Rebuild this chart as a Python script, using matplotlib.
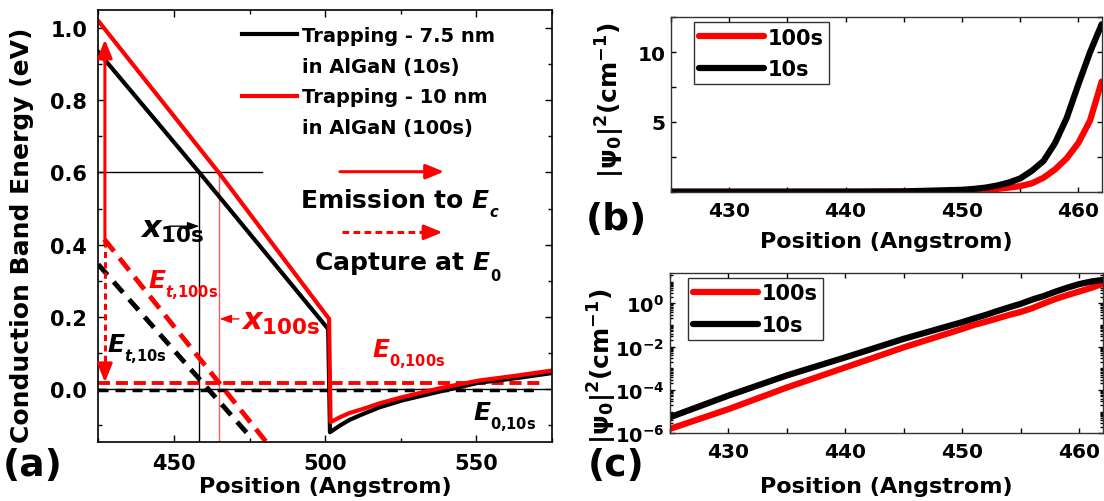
import numpy as np
import matplotlib
matplotlib.use("Agg")
import matplotlib.pyplot as plt
from matplotlib.lines import Line2D
from matplotlib.ticker import MultipleLocator, FixedLocator, LogLocator, NullFormatter

plt.rcParams.update({
    "font.family": "DejaVu Sans",
    "font.weight": "bold",
    "axes.labelweight": "bold",
    "axes.unicode_minus": False,
    "mathtext.fontset": "custom",
    "mathtext.rm": "DejaVu Sans:bold",
    "mathtext.bf": "DejaVu Sans:bold",
    "mathtext.it": "DejaVu Sans:italic:bold",
    "mathtext.default": "rm",
    "xtick.direction": "in",
    "ytick.direction": "in",
    "xtick.top": True,
    "ytick.right": True,
})

# ---- panel (a): conduction band (eV) vs position (Angstrom)
x_band_10s = [425, 458.4, 501.0, 501.6, 505, 508, 512.7, 518, 525.4, 538.0, 550.7, 563.4, 575]
e_band_10s = [0.934, 0.600, 0.166, -0.120, -0.101, -0.086, -0.069, -0.051, -0.032, -0.007, 0.017, 0.030, 0.044]
x_band_100s = [425, 464.8, 501.3, 501.8, 505, 508, 512.7, 518, 525.4, 538.0, 550.7, 563.4, 575]
e_band_100s = [1.020, 0.600, 0.194, -0.092, -0.078, -0.067, -0.055, -0.040, -0.023, 0.002, 0.023, 0.037, 0.051]

# trap levels (dashed diagonals)
x_et_10s = [425, 475.5]
e_et_10s = [0.345, -0.135]
x_et_100s = [427, 481]
e_et_100s = [0.415, -0.152]

# ground state levels
x_e0 = [425, 571]
e0_10s = -0.004
e0_100s = 0.017

# guide lines
e_trap = 0.6
x_guide_end = 479
x_cross_10s = 458.4
x_cross_100s = 464.8

# ---- panels (b),(c): |psi0|^2 (cm^-1)
x_psi = [425, 430, 435, 440, 445, 450, 451, 452, 453, 454, 455, 456, 457, 458, 459, 460, 461, 462]
psi_10s = [5.5e-6, 5.5e-5, 4.7e-4, 3.2e-3, 2.3e-2, 0.135, 0.2, 0.29, 0.44, 0.65,
           0.95, 1.5, 2.2, 3.5, 5.3, 7.7, 10.0, 12.0]
psi_100s = [1.6e-6, 1.3e-5, 1.3e-4, 1.1e-3, 9.3e-3, 0.066, 0.1, 0.14, 0.2, 0.29,
            0.40, 0.6, 1.0, 1.6, 2.4, 3.5, 5.1, 7.9]

fig = plt.figure(figsize=(11.04, 5.02), dpi=100)
axa = fig.add_axes([0.0890, 0.1169, 0.4110, 0.8618])
axb = fig.add_axes([0.6078, 0.6161, 0.3901, 0.3474])
axc = fig.add_axes([0.6069, 0.1349, 0.3919, 0.3193])


def sub_label(ax, x, y, main, sub, color="k", size=18, subsize=10.5):
    t = ax.text(x, y, main, fontsize=size, color=color, va="baseline")
    ax.annotate(sub, xy=(1, 0), xycoords=t, xytext=(-1, -3), textcoords="offset points",
                fontsize=subsize, color=color, va="baseline")


# ================= (a)
axa.axhline(0, color="k", lw=1.0)
axa.plot([425, x_guide_end], [e_trap, e_trap], color="k", lw=1.0)
axa.plot([x_cross_10s, x_cross_10s], [e_trap, -0.2], color="k", lw=1.0)
axa.plot([x_cross_100s, x_cross_100s], [e_trap, -0.2], color="#ff5a5a", lw=1.0)

axa.plot(x_e0, [e0_10s, e0_10s], color="k", lw=2.5, dashes=(2.9, 2.0))
axa.plot(x_e0, [e0_100s, e0_100s], color="red", lw=2.8, dashes=(3.1, 1.5))
axa.plot(x_et_10s, e_et_10s, color="k", lw=3.5, dashes=(2.9, 1.9))
axa.plot(x_et_100s, e_et_100s, color="red", lw=3.5, dashes=(3.2, 1.8))

h_blk, = axa.plot(x_band_10s, e_band_10s, color="k", lw=3)
h_red, = axa.plot(x_band_100s, e_band_100s, color="red", lw=3)

blank = Line2D([], [], color="none")
axa.legend([h_blk, blank, h_red, blank],
           ["Trapping - 7.5 nm", "in AlGaN (10s)", "Trapping - 10 nm", "in AlGaN (100s)"],
           loc="upper left", bbox_to_anchor=(0.317, 0.962), frameon=False,
           fontsize=14, handlelength=2.8, handletextpad=0.3, labelspacing=0.6,
           borderaxespad=0, borderpad=0)

head = "-|>,head_length=1.1,head_width=0.45"
# emission / capture key arrows
axa.annotate("", xy=(539.3, 0.602), xytext=(504.9, 0.602),
             arrowprops=dict(arrowstyle=head, color="red", lw=2.2, shrinkA=0, shrinkB=0))
axa.plot([505.5, 534], [0.434, 0.434], color="red", lw=2.2, dashes=(2.2, 1.4))
axa.annotate("", xy=(538.8, 0.434), xytext=(533.5, 0.434),
             arrowprops=dict(arrowstyle=head, color="red", lw=2.2, shrinkA=0, shrinkB=0))
# vertical emission / capture arrows
axa.annotate("", xy=(427.2, 0.968), xytext=(427.2, 0.40),
             arrowprops=dict(arrowstyle=head, color="red", lw=2.2, shrinkA=0, shrinkB=0))
axa.plot([427.2, 427.2], [0.41, 0.06], color="red", lw=2.2, dashes=(2.0, 1.4))
axa.annotate("", xy=(427.2, 0.0185), xytext=(427.2, 0.07),
             arrowprops=dict(arrowstyle=head, color="red", lw=2.2, shrinkA=0, shrinkB=0))
# distance arrows
axa.annotate("", xy=(x_cross_10s, 0.451), xytext=(448.4, 0.451),
             arrowprops=dict(arrowstyle="-|>,head_length=0.7,head_width=0.25", color="k", lw=1, shrinkA=0, shrinkB=0))
axa.annotate("", xy=(x_cross_100s + 0.3, 0.194), xytext=(471.5, 0.194),
             arrowprops=dict(arrowstyle="-|>,head_length=0.7,head_width=0.25", color="red", lw=1, shrinkA=0, shrinkB=0))

axa.text(438.8, 0.421, r"$\mathit{x}_{\mathrm{10s}}$", fontsize=22, color="k", va="baseline")
axa.text(472.3, 0.166, r"$\mathit{x}_{\mathrm{100s}}$", fontsize=22, color="red", va="baseline")

sub_label(axa, 491.6, 0.504, r"Emission to $\mathit{E}$", r"$\mathit{c}$")
sub_label(axa, 496.3, 0.332, r"Capture at $\mathit{E}$", r"$\mathit{0}$")
sub_label(axa, 441.3, 0.283, r"$\mathit{E}$", r"$\mathit{t}$,100s", color="red")
sub_label(axa, 427.9, 0.105, r"$\mathit{E}$", r"$\mathit{t}$,10s")
sub_label(axa, 515.4, 0.091, r"$\mathit{E}$", r"$\mathit{0}$,100s", color="red")
sub_label(axa, 548.8, -0.083, r"$\mathit{E}$", r"$\mathit{0}$,10s")

axa.set_xlim(425, 575)
axa.set_ylim(-0.148, 1.051)
axa.xaxis.set_major_locator(MultipleLocator(50))
axa.xaxis.set_minor_locator(MultipleLocator(25))
axa.yaxis.set_major_locator(MultipleLocator(0.2))
axa.yaxis.set_minor_locator(MultipleLocator(0.1))
axa.tick_params(which="major", length=5, width=1, labelsize=15, pad=8)
axa.tick_params(which="minor", length=3, width=1)
for s in axa.spines.values():
    s.set_linewidth(1.2)
axa.set_xlabel("Position (Angstrom)", fontsize=16)
axa.set_ylabel("Conduction Band Energy (eV)", fontsize=18)
axa.xaxis.set_label_coords(0.5, -0.078)
axa.yaxis.set_label_coords(-0.142, 0.48)

# ================= (b) and (c)
for ax in (axb, axc):
    ax.plot(x_psi, psi_100s, color="red", lw=4.5, solid_capstyle="round", label="100s")
    ax.plot(x_psi, psi_10s, color="k", lw=4.5, solid_capstyle="round", label="10s")
    ax.set_xlim(425, 462)
    ax.xaxis.set_major_locator(MultipleLocator(10))
    ax.xaxis.set_minor_locator(MultipleLocator(5))
    ax.tick_params(which="both", length=3.5, width=1, labelsize=14.5)
    for s in ax.spines.values():
        s.set_linewidth(1.0)
        s.set_color("#333333")
    ax.set_xlabel("Position (Angstrom)", fontsize=16)
    ax.set_ylabel(r"$|\psi_0|^2$(cm$^{-1}$)", fontsize=18)

axb.set_ylim(0, 12.5)
axb.yaxis.set_major_locator(FixedLocator([5, 10]))
axb.yaxis.set_minor_locator(MultipleLocator(2.5))
axb.tick_params(axis="y", pad=4)
axb.tick_params(axis="x", pad=7)
axb.xaxis.set_label_coords(0.5, -0.225)
axb.yaxis.set_label_coords(-0.102, 0.53)

axc.set_yscale("log")
axc.set_ylim(1e-6, 25)
axc.yaxis.set_major_locator(FixedLocator([1e-6, 1e-4, 1e-2, 1]))
axc.yaxis.set_minor_locator(LogLocator(base=10, subs=np.arange(1, 10), numticks=60))
axc.yaxis.set_minor_formatter(NullFormatter())
axc.tick_params(axis="y", which="minor", length=2.5)
axc.tick_params(axis="y", pad=4, labelsize=14)
axc.tick_params(axis="x", pad=6)
axc.xaxis.set_label_coords(0.5, -0.265)
axc.yaxis.set_label_coords(-0.118, 0.426)

for ax, anchor in ((axb, (0.0534, 0.9713)), (axc, (0.041, 0.967))):
    leg = ax.legend(loc="upper left", bbox_to_anchor=anchor, fontsize=15,
                    handlelength=3.1, handletextpad=0.2, labelspacing=0.55,
                    borderpad=0.25, borderaxespad=0, fancybox=False)
    leg.get_frame().set_edgecolor("k")
    leg.get_frame().set_linewidth(1.0)

fig.text(0.0299, 0.0717, "(a)", fontsize=27, ha="center", va="center")
fig.text(0.558, 0.562, "(b)", fontsize=27, ha="center", va="center")
fig.text(0.558, 0.0717, "(c)", fontsize=27, ha="center", va="center")

fig.savefig("out.png", dpi=100)
